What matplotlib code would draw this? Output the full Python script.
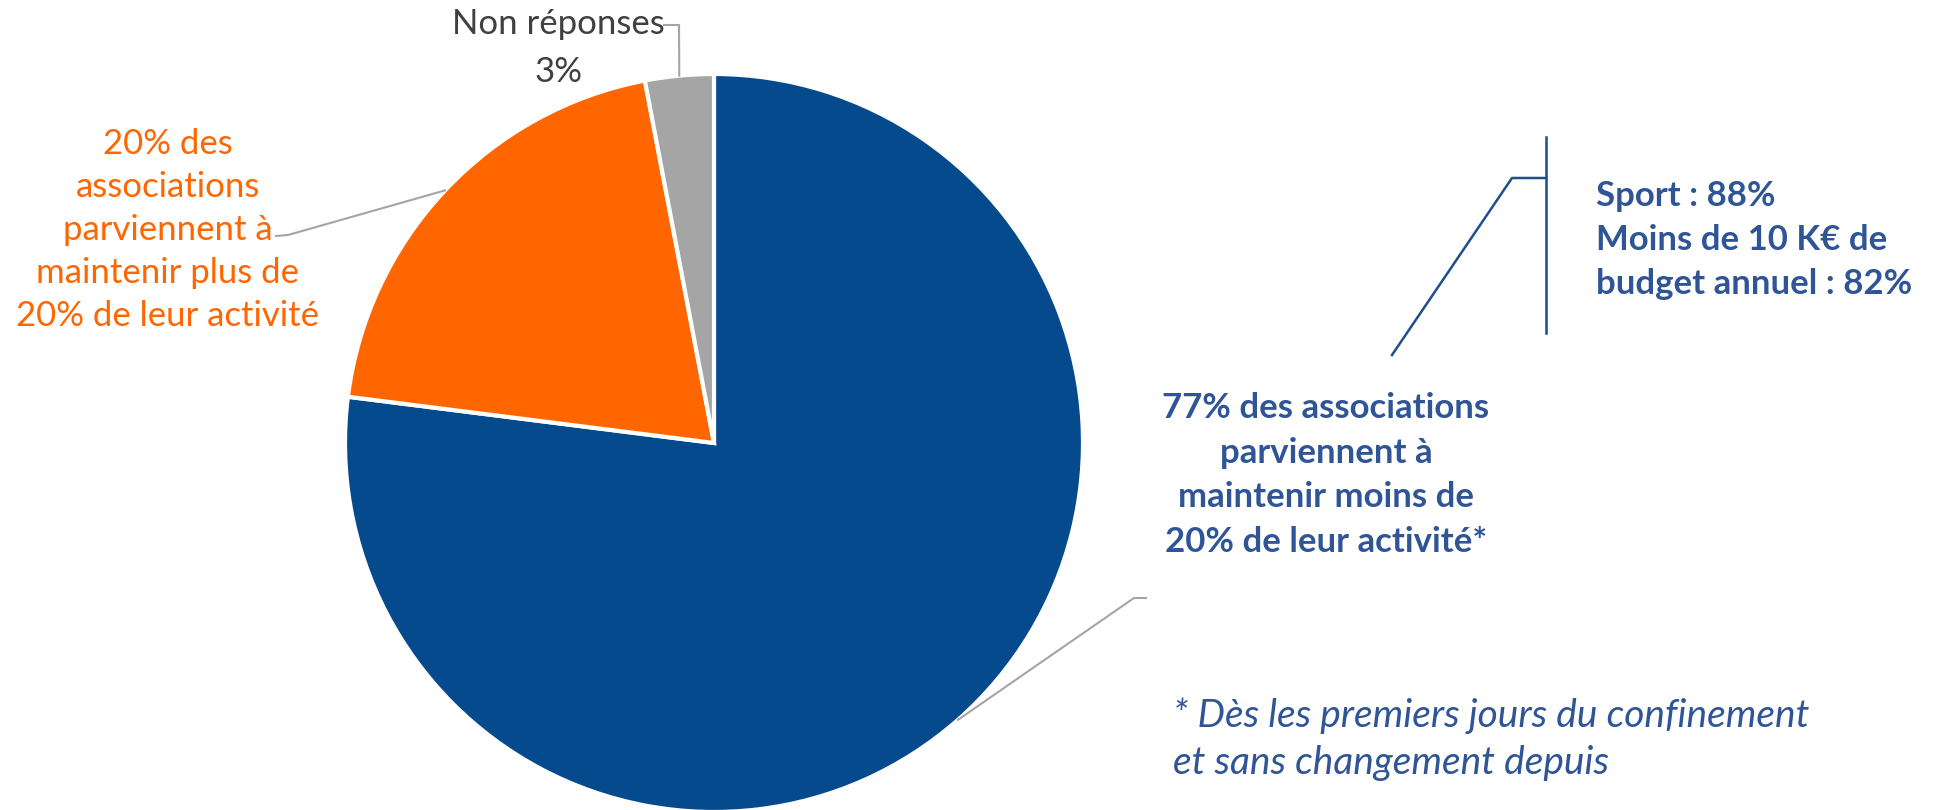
import numpy as np
import matplotlib.pyplot as plt

# données
labels = ["moins de 20%", "plus de 20%", "Non réponses"]
values = [77, 20, 3]
colors = ["#064A8E", "#FF6600", "#A5A5A5"]

txt_blue = "77% des associations\nparviennent à\nmaintenir moins de\n20% de leur activité*"
txt_orange = "20% des\nassociations\nparviennent à\nmaintenir plus de\n20% de leur activité"
txt_gray = "Non réponses\n3%"
txt_detail = "Sport : 88%\nMoins de 10 K€ de\nbudget annuel : 82%"
txt_note = "* Dès les premiers jours du confinement\net sans changement depuis"

W, H = 1947, 810
fig = plt.figure(figsize=(W / 100, H / 100), dpi=100)
ax = fig.add_axes([0, 0, 1, 1])

cx, cy, R = 714, H - 443, 369
wedges, _ = ax.pie(values, colors=colors, startangle=90, counterclock=False,
                   center=(cx, cy), radius=R, frame=True,
                   wedgeprops=dict(edgecolor="white", linewidth=3))
ax.set_xlim(0, W)
ax.set_ylim(0, H)
ax.set_aspect("equal")
ax.axis("off")


def edge_point(w, r=R):
    a = np.deg2rad((w.theta1 + w.theta2) / 2)
    return cx + r * np.cos(a), cy + r * np.sin(a)


font = "Lato"
blue_txt = "#2F5597"

# étiquettes
ax.text(1326, H - 475, txt_blue, ha="center", va="center", fontsize=25,
        fontweight="bold", color=blue_txt, family=font, linespacing=1.48)
ax.text(168, H - 230, txt_orange, ha="center", va="center", fontsize=25,
        color="#FF6600", family=font, linespacing=1.42)
ax.text(558, H - 48, txt_gray, ha="center", va="center", fontsize=25,
        color="#404040", family=font, linespacing=1.58)

# lignes de rappel
lc = "#A5A5A5"
x0, y0 = edge_point(wedges[0])
ax.plot([x0, 1134, 1146], [y0, H - 598, H - 598], color=lc, lw=1.5)
x1, y1 = edge_point(wedges[1])
ax.plot([276, 288, x1], [H - 236, H - 235, y1], color=lc, lw=1.5)
x2, y2 = edge_point(wedges[2])
ax.plot([664, 679, x2], [H - 25, H - 25, y2], color=lc, lw=1.5)

# zoom sur le détail
dc = "#1F4E8C"
ax.plot([1392, 1512, 1546], [H - 355, H - 178, H - 178], color=dc, lw=1.8)
ax.plot([1546, 1546], [H - 137, H - 333], color=dc, lw=1.8)
ax.text(1596, H - 240, txt_detail, ha="left", va="center", fontsize=25,
        fontweight="bold", color=blue_txt, family=font, linespacing=1.45)

# note
ax.text(1173, H - 739, txt_note, ha="left", va="center", fontsize=28,
        style="italic", color=blue_txt, family=font, linespacing=1.38)

fig.savefig("out.png", dpi=100)
